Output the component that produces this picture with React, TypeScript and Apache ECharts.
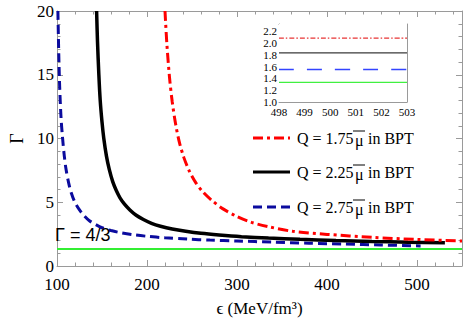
import React, { useEffect, useRef } from 'react';
import * as echarts from 'echarts';

// Main panel data
const blueEps = [101, 102, 103, 104.5, 106, 108, 110, 113, 116, 120, 125, 130, 136, 143, 150, 160, 170, 185, 200, 220, 245, 270, 300, 340, 380, 420, 460, 504];
const blueGamma = [20, 16.5, 14, 11.6, 10.2, 8.7, 7.6, 6.5, 5.7, 4.98, 4.4, 3.95, 3.55, 3.25, 3.0, 2.78, 2.62, 2.45, 2.33, 2.21, 2.11, 2.03, 1.96, 1.87, 1.79, 1.72, 1.65, 1.57];

const blackEps = [144, 145, 146.5, 148, 150, 152, 155, 158, 162, 166, 170, 175, 181, 188, 196, 205, 215, 228, 243, 260, 280, 305, 335, 370, 410, 450, 490, 531];
const blackGamma = [20, 17.6, 15, 13, 11.3, 10, 8.6, 7.6, 6.6, 5.9, 5.35, 4.85, 4.4, 3.98, 3.65, 3.35, 3.12, 2.9, 2.72, 2.56, 2.43, 2.3, 2.19, 2.09, 2.0, 1.93, 1.87, 1.82];

const redEps = [220, 222, 225, 228, 232, 236, 241, 247, 254, 262, 272, 284, 298, 315, 335, 362, 400, 450, 500, 550];
const redGamma = [20, 17.5, 14.8, 12.9, 11.05, 9.7, 8.5, 7.45, 6.56, 5.82, 5.15, 4.5, 3.95, 3.45, 3.08, 2.72, 2.48, 2.25, 2.08, 1.96];

const greenEps = [100, 550];
const greenGamma = [4 / 3, 4 / 3];

// Inset data
const insetEps = [498, 503];
const insetRed = [2.08, 2.08];
const insetBlack = [1.83, 1.83];
const insetBlue = [1.55, 1.55];
const insetGreen = [4 / 3, 4 / 3];

const legendQ = ['1.75', '2.25', '2.75'];

const zip = (xs: number[], ys: number[]) => xs.map((x, i) => [x, ys[i]]);

const SERIF = 'Liberation Serif';
const FRAME = '#9a9a9a';

const RED = '#ff0000';
const BLACK = '#000000';
const BLUE = '#0b0b9e';
const GREEN = '#33ee33';

function axis(o: any) {
  return {
    type: 'value',
    gridIndex: o.grid,
    position: o.position,
    min: o.min,
    max: o.max,
    interval: o.interval,
    name: o.name,
    nameLocation: 'middle',
    nameGap: o.nameGap,
    nameRotate: o.nameRotate,
    nameTextStyle: { fontFamily: SERIF, fontSize: o.nameSize || 17, color: '#000' },
    axisLine: { show: true, onZero: false, lineStyle: { color: FRAME, width: 1 } },
    axisTick: { show: true, inside: true, length: o.tickLen || 6, lineStyle: { color: FRAME } },
    minorTick: { show: true, splitNumber: o.minor, length: o.minorLen || 3.5, lineStyle: { color: FRAME } },
    splitLine: { show: false },
    minorSplitLine: { show: false },
    axisLabel: {
      show: !!o.labels,
      color: '#000',
      fontFamily: SERIF,
      fontSize: o.fontSize,
      lineHeight: o.lineHeight,
      margin: o.margin,
      showMaxLabel: o.showMax,
      formatter: o.formatter,
    },
  };
}

export default function App() {
  const ref = useRef<HTMLDivElement>(null);

  useEffect(() => {
    if (!ref.current) return;
    const chart = echarts.init(ref.current, undefined, { renderer: 'svg' });

    const legendRows = [138, 172, 207];
    const legendStyles = [
      { stroke: RED, lineDash: [10, 4, 3, 4] },
      { stroke: BLACK, lineDash: null },
      { stroke: BLUE, lineDash: [9, 5] },
    ];
    const legendGraphics: any[] = [];
    legendQ.forEach((q, i) => {
      const y = legendRows[i];
      legendGraphics.push({
        type: 'line',
        shape: { x1: 253, y1: y, x2: 290, y2: y },
        style: { stroke: legendStyles[i].stroke, lineWidth: 3, lineDash: legendStyles[i].lineDash },
      });
      legendGraphics.push({
        type: 'text', x: 297, y,
        style: { text: 'Q = ' + q, font: '16px "Liberation Serif"', fill: '#000', verticalAlign: 'middle' },
      });
      legendGraphics.push({
        type: 'text', x: 355, y: y + 2,
        style: { text: 'μ', font: '16px "Liberation Serif"', fill: '#000', verticalAlign: 'middle' },
      });
      legendGraphics.push({
        type: 'line',
        shape: { x1: 353, y1: y - 7, x2: 365, y2: y - 7 },
        style: { stroke: '#000', lineWidth: 1 },
      });
      legendGraphics.push({
        type: 'text', x: 368, y,
        style: { text: 'in BPT', font: '16px "Liberation Serif"', fill: '#000', verticalAlign: 'middle' },
      });
    });

    const lineSeries = (name: string, xi: number, yi: number, data: number[][], color: string, width: number, type: any, z = 2) => ({
      name,
      type: 'line',
      xAxisIndex: xi,
      yAxisIndex: yi,
      data,
      symbol: 'none',
      showSymbol: false,
      smooth: 0.3,
      clip: true,
      silent: true,
      z,
      lineStyle: { color, width, type },
    });

    chart.setOption({
      animation: false,
      backgroundColor: '#fff',
      grid: [
        { left: 49, top: 11, right: 1, bottom: 56, containLabel: false },
        { left: 279, top: 24, width: 128, height: 78, containLabel: false, show: true, backgroundColor: '#fff', borderWidth: 0, z: 5 },
      ],
      xAxis: [
        axis({ grid: 0, position: 'bottom', min: 100, max: 550, interval: 100, minor: 5, labels: true, fontSize: 17, lineHeight: 15, margin: 11, showMax: false,
          name: 'ϵ (MeV/fm³)', nameGap: 34, nameSize: 17 }),
        axis({ grid: 0, position: 'top', min: 100, max: 550, interval: 100, minor: 5, labels: false }),
        axis({ grid: 1, position: 'bottom', min: 498, max: 503, interval: 1, minor: 5, labels: true, fontSize: 11, lineHeight: 11, margin: 4, tickLen: 4, minorLen: 2.5 }),
        axis({ grid: 1, position: 'top', min: 498, max: 503, interval: 1, minor: 5, labels: false, tickLen: 4, minorLen: 2.5 }),
      ],
      yAxis: [
        axis({ grid: 0, position: 'left', min: 0, max: 20, interval: 5, minor: 5, labels: true, fontSize: 17, lineHeight: 13, margin: 3,
          name: 'Γ', nameGap: 31, nameRotate: 90, nameSize: 18 }),
        axis({ grid: 0, position: 'right', min: 0, max: 20, interval: 5, minor: 5, labels: false }),
        axis({ grid: 1, position: 'left', min: 1.0, max: 2.32, interval: 0.2, minor: 4, labels: true, fontSize: 11, lineHeight: 10, margin: 2, showMax: false,
          tickLen: 4, minorLen: 2.5, formatter: (v: number) => v.toFixed(1) }),
        axis({ grid: 1, position: 'right', min: 1.0, max: 2.32, interval: 0.2, minor: 4, labels: false, tickLen: 4, minorLen: 2.5 }),
      ],
      series: [
        lineSeries('green', 0, 0, zip(greenEps, greenGamma), GREEN, 2.2, 'solid', 2),
        lineSeries('blue', 0, 0, zip(blueEps, blueGamma), BLUE, 3, [9, 5], 3),
        lineSeries('black', 0, 0, zip(blackEps, blackGamma), BLACK, 3.5, 'solid', 4),
        lineSeries('red', 0, 0, zip(redEps, redGamma), RED, 3, [10, 4, 3, 4], 5),
        lineSeries('iRed', 2, 2, zip(insetEps, insetRed), '#e83535', 1.2, [5, 2, 1.5, 2], 6),
        lineSeries('iBlack', 2, 2, zip(insetEps, insetBlack), '#3a3a3a', 1.2, 'solid', 6),
        lineSeries('iBlue', 2, 2, zip(insetEps, insetBlue), '#3344ff', 1.5, [15, 13], 6),
        lineSeries('iGreen', 2, 2, zip(insetEps, insetGreen), '#40f040', 1.2, 'solid', 6),
      ],
      graphic: [
        {
          type: 'text', x: 55, y: 235,
          style: { text: 'Γ = 4/3', font: '18px "Liberation Sans"', fill: '#000', verticalAlign: 'middle' },
          z: 10,
        },
        ...legendGraphics,
      ],
    });

    return () => chart.dispose();
  }, []);

  return <div ref={ref} style={{ position: 'fixed', left: 0, top: 0, width: 463, height: 322 }} />;
}
